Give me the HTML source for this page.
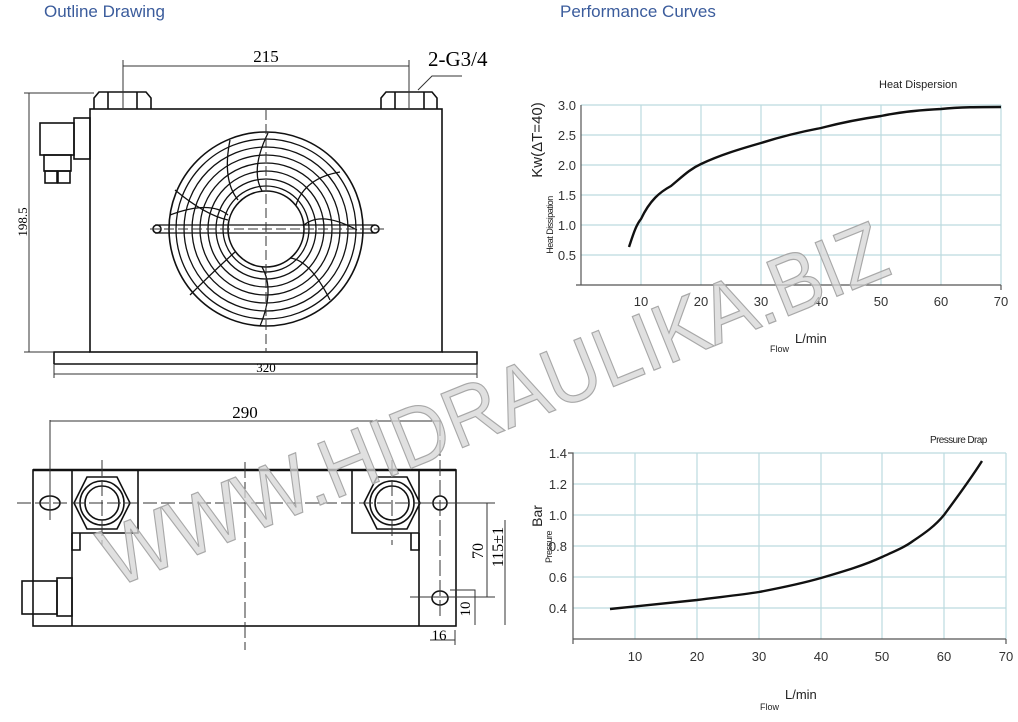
<!DOCTYPE html>
<html><head><meta charset="utf-8"><style>
html,body{margin:0;padding:0;background:#fff;}
svg{display:block;}
</style></head><body>
<svg width="1018" height="722" viewBox="0 0 1018 722" xmlns="http://www.w3.org/2000/svg" font-family="Liberation Sans, sans-serif">
<text x="44" y="17" font-size="17" fill="#3b5c9c">Outline Drawing</text>
<text x="560" y="17" font-size="17" fill="#3b5c9c">Performance Curves</text>

<!-- TOP DRAWING -->
<g fill="none" stroke="#111" stroke-width="1.6">
 <rect x="90" y="109" width="352" height="243"/>
 <path d="M54 364 L54 352 L90 352 M442 352 L477 352 L477 364 L54 364"/>
 <path d="M94 109 L94 98 L99 92 L146 92 L151 98 L151 109 M108 92 L108 109 M137 92 L137 109"/>
 <path d="M381 109 L381 98 L386 92 L432 92 L437 98 L437 109 M395 92 L395 109 M424 92 L424 109"/>
 <rect x="40" y="123" width="34" height="32"/>
 <rect x="74" y="118" width="16" height="41"/>
 <rect x="44" y="155" width="27" height="16"/>
 <rect x="45" y="171" width="12" height="12"/><rect x="58" y="171" width="12" height="12"/>
 <circle cx="266" cy="229" r="97"/><circle cx="266" cy="229" r="90" stroke-width="1.3"/>
 <circle cx="266" cy="229" r="82" stroke-width="1.3"/><circle cx="266" cy="229" r="74" stroke-width="1.3"/>
 <circle cx="266" cy="229" r="66" stroke-width="1.3"/><circle cx="266" cy="229" r="58" stroke-width="1.3"/>
 <circle cx="266" cy="229" r="50" stroke-width="1.3"/><circle cx="266" cy="229" r="43" stroke-width="1.3"/>
 <circle cx="266" cy="229" r="38"/>
 <g stroke-width="1.3">
  <path d="M230 140 Q222 180 238 200"/>
  <path d="M268 133 Q250 170 262 191"/>
  <path d="M340 172 Q305 178 296 205"/>
  <path d="M357 230 Q320 210 303 226"/>
  <path d="M330 300 Q310 260 290 258"/>
  <path d="M260 326 Q275 290 262 267"/>
  <path d="M190 295 Q215 270 235 252"/>
  <path d="M175 190 Q205 215 228 220"/>
  <path d="M170 215 Q210 200 228 215"/>
 </g>
 <path d="M155 225 L375 225 M155 233 L375 233" stroke-width="1.3"/>
 <circle cx="157" cy="229" r="4"/><circle cx="375" cy="229" r="4"/>
</g>
<g stroke="#333" stroke-width="1" fill="none">
 <path d="M266 110 L266 352 M150 229 L385 229" stroke-dasharray="10 4"/>
 <path d="M123 60 L123 108 M409 60 L409 108 M123 66 L409 66"/>
 <path d="M29 93 L29 352 M24 93 L94 93 M24 352 L54 352"/>
 <path d="M54 364 L54 378 M477 364 L477 378 M54 374 L477 374"/>
 <path d="M418 90 L432 76 L462 76"/>
</g>
<text x="266" y="62" font-family="Liberation Serif, serif" font-size="17" text-anchor="middle">215</text>
<text x="428" y="66" font-family="Liberation Serif, serif" font-size="21">2-G3/4</text>
<text x="266" y="372" font-family="Liberation Serif, serif" font-size="13" text-anchor="middle">320</text>
<text transform="translate(27 222) rotate(-90)" font-family="Liberation Serif, serif" font-size="13" text-anchor="middle">198.5</text>

<!-- BOTTOM DRAWING -->
<g fill="none" stroke="#111" stroke-width="1.6">
 <rect x="33" y="470" width="423" height="156"/>
 <path d="M72 470 L72 626 M419 470 L419 626"/>
 <path d="M33 470 L456 470" stroke-width="2.6"/>
 <path d="M72 533 L138 533 L138 470 M72 533 L72 550 L80 550 L80 533"/>
 <path d="M419 533 L352 533 L352 470 M419 533 L419 550 L411 550 L411 533"/>
 <polygon points="87,477 117,477 130,503 117,529 87,529 74,503"/>
 <circle cx="102" cy="503" r="22"/><circle cx="102" cy="503" r="17"/>
 <polygon points="377,477 407,477 420,503 407,529 377,529 364,503"/>
 <circle cx="392" cy="503" r="22"/><circle cx="392" cy="503" r="17"/>
 <ellipse cx="50" cy="503" rx="10" ry="7"/>
 <ellipse cx="440" cy="503" rx="7" ry="7"/>
 <ellipse cx="440" cy="598" rx="8" ry="7"/>
 <rect x="22" y="581" width="35" height="33"/>
 <rect x="57" y="578" width="15" height="38"/>
</g>
<g stroke="#333" stroke-width="1" fill="none">
 <path d="M17 503 L475 503" stroke-dasharray="14 4"/>
 <path d="M245 462 L245 650 M102 460 L102 545 M392 460 L392 545 M440 420 L440 620" stroke-dasharray="16 4"/>
 <path d="M50 420 L50 520 M50 421 L440 421"/>
 <path d="M420 503 L495 503 M487 503 L487 597 M410 597 L495 597 M505 520 L505 625"/>
 <path d="M450 590 L475 590 L475 625 M455 630 L455 645 M430 640 L455 640"/>
</g>
<text x="245" y="418" font-family="Liberation Serif, serif" font-size="17" text-anchor="middle">290</text>
<text transform="translate(483 551) rotate(-90)" font-family="Liberation Serif, serif" font-size="16" text-anchor="middle">70</text>
<text transform="translate(503 547) rotate(-90)" font-family="Liberation Serif, serif" font-size="16" text-anchor="middle">115±1</text>
<text transform="translate(470 609) rotate(-90)" font-family="Liberation Serif, serif" font-size="15" text-anchor="middle">10</text>
<text x="439" y="640" font-family="Liberation Serif, serif" font-size="15" text-anchor="middle">16</text>

<!-- CHART 1 -->
<g stroke="#bcdadf" stroke-width="1.2">
 <path d="M581 105 L1001 105 M581 135 L1001 135 M581 165 L1001 165 M581 195 L1001 195 M581 225 L1001 225 M581 255 L1001 255"/>
 <path d="M641 105 L641 285 M701 105 L701 285 M761 105 L761 285 M821 105 L821 285 M881 105 L881 285 M941 105 L941 285 M1001 105 L1001 285"/>
</g>
<path d="M581 105 L581 285 L1001 285 M576 285 L581 285 M1001 285 L1001 290" stroke="#555" stroke-width="1.2" fill="none"/>
<path d="M629 247 C633 235 636 225 641 219 C650 200 660 192 671 186 C683 176 690 169 701 164 C720 155 740 149 761 143 C780 137 800 132 821 128 C840 123 860 119 881 116 C900 112 920 110 941 109 C960 107 980 107 1001 107" stroke="#111" stroke-width="2.4" fill="none"/>
<g font-size="13" fill="#333" text-anchor="end">
 <text x="576" y="110">3.0</text><text x="576" y="140">2.5</text><text x="576" y="170">2.0</text>
 <text x="576" y="200">1.5</text><text x="576" y="230">1.0</text><text x="576" y="260">0.5</text>
</g>
<g font-size="13" fill="#333" text-anchor="middle">
 <text x="641" y="306">10</text><text x="701" y="306">20</text><text x="761" y="306">30</text><text x="821" y="306">40</text><text x="881" y="306">50</text><text x="941" y="306">60</text><text x="1001" y="306">70</text>
</g>
<text x="879" y="88" font-size="11" fill="#222">Heat Dispersion</text>
<text transform="translate(542 140) rotate(-90)" font-size="15" fill="#222" text-anchor="middle">Kw(ΔT=40)</text>
<text transform="translate(553 225) rotate(-90)" font-size="9" fill="#222" text-anchor="middle" letter-spacing="-0.5">Heat Dissipation</text>
<text x="795" y="343" font-size="13" fill="#222">L/min</text>
<text x="770" y="352" font-size="9" fill="#222">Flow</text>

<!-- CHART 2 -->
<g stroke="#bcdadf" stroke-width="1.2">
 <path d="M573 453 L1006 453 M573 484 L1006 484 M573 515 L1006 515 M573 546 L1006 546 M573 577 L1006 577 M573 608 L1006 608"/>
 <path d="M635 453 L635 639 M697 453 L697 639 M759 453 L759 639 M821 453 L821 639 M882 453 L882 639 M944 453 L944 639 M1006 453 L1006 639"/>
</g>
<path d="M568 453 L573 453 L573 639 L1006 639 M573 639 L573 644 M1006 639 L1006 644" stroke="#555" stroke-width="1.2" fill="none"/>
<path d="M610 609 C640 606 670 603 697 600 C720 597 740 595 759 592 C780 588 800 584 821 578 C845 571 865 565 882 557 C895 551 905 547 913 541 C925 533 935 526 944 515 C958 496 970 480 982 461" stroke="#111" stroke-width="2.4" fill="none"/>
<g font-size="13" fill="#333" text-anchor="end">
 <text x="567" y="458">1.4</text><text x="567" y="489">1.2</text><text x="567" y="520">1.0</text>
 <text x="567" y="551">0.8</text><text x="567" y="582">0.6</text><text x="567" y="613">0.4</text>
</g>
<g font-size="13" fill="#333" text-anchor="middle">
 <text x="635" y="661">10</text><text x="697" y="661">20</text><text x="759" y="661">30</text><text x="821" y="661">40</text><text x="882" y="661">50</text><text x="944" y="661">60</text><text x="1006" y="661">70</text>
</g>
<text x="930" y="443" font-size="10" fill="#222" letter-spacing="-0.6">Pressure Drap</text>
<text transform="translate(542 516) rotate(-90)" font-size="14" fill="#222" text-anchor="middle">Bar</text>
<text transform="translate(552 547) rotate(-90)" font-size="9" fill="#222" text-anchor="middle" letter-spacing="-0.5">Pressure</text>
<text x="785" y="699" font-size="13" fill="#222">L/min</text>
<text x="760" y="710" font-size="9" fill="#222">Flow</text>

<!-- WATERMARK -->
<text transform="translate(115 588) rotate(-22)" font-size="84" fill="#d6d6d6" fill-opacity="0.75" stroke="#a8a8a8" stroke-width="1.2" textLength="840" lengthAdjust="spacingAndGlyphs">WWW.HIDRAULIKA.BIZ</text>
</svg>
</body></html>
